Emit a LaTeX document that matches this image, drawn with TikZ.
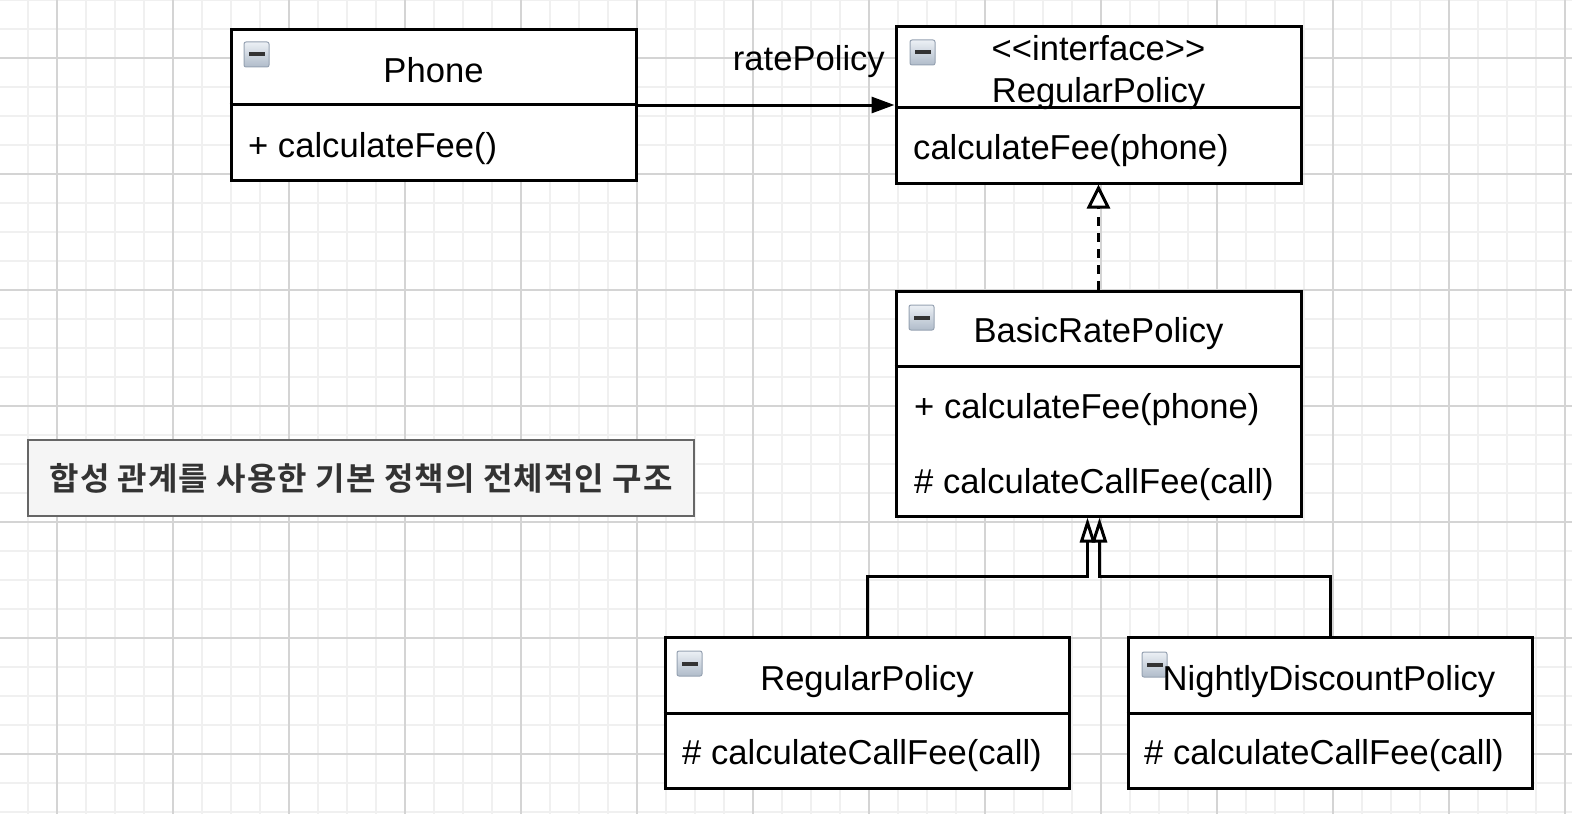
\documentclass[tikz,border=0pt]{standalone}
\usepackage{fontspec}
\setmainfont{Liberation Sans}
\newfontfamily\krfont[LetterSpace=3.5]{Noto Sans CJK KR Bold}
\usetikzlibrary{arrows.meta}
\definecolor{gridminor}{RGB}{240,240,240}
\definecolor{gridmajor}{RGB}{212,212,212}
\definecolor{lblfill}{RGB}{245,245,245}
\definecolor{lblborder}{RGB}{102,102,102}
\definecolor{lbltext}{RGB}{51,51,51}
\definecolor{icontop}{RGB}{236,240,245}
\definecolor{iconbot}{RGB}{176,188,202}
\definecolor{iconedge}{RGB}{150,162,178}
\tikzset{
  cls/.style={draw=black, line width=3bp, fill=white, inner sep=0pt},
  divider/.style={draw=black, line width=3bp},
  txt/.style={font=\fontsize{34.6bp}{40bp}\selectfont, inner sep=0pt, text=black},
  assoc/.style={line width=3bp, -{Triangle[length=23bp,width=16bp]}},
  realize/.style={line width=3bp, dash pattern=on 9bp off 7bp, -{Triangle[open,fill=white,length=24bp,width=23bp]}},
  inherit/.style={line width=3bp, -{Triangle[open,fill=white,length=25bp,width=15bp]}},
}
\newcommand{\clsicon}[2]{%
  \shade[top color=icontop, bottom color=iconbot, draw=iconedge, line width=1bp, rounded corners=2bp]
    (#1,#2) rectangle ++(25,25);
  \fill[black!80] (#1+4.5,#2+10.5) rectangle ++(16,4);
}
\begin{document}
\begin{tikzpicture}[x=1bp,y=-1bp]
\useasboundingbox (0,0) rectangle (1572,814);
\fill[white] (0,0) rectangle (1572,814);
% grid
\foreach \i in {-1,...,52} \draw[gridminor, line width=1.2bp] ({57+29*\i},0) -- ({57+29*\i},814);
\foreach \j in {-2,...,26} \draw[gridminor, line width=1.2bp] (0,{58+29*\j}) -- (1572,{58+29*\j});
\foreach \i in {0,...,13} \draw[gridmajor, line width=1.1bp] ({57+116*\i},0) -- ({57+116*\i},814);
\foreach \j in {0,...,6} \draw[gridmajor, line width=1.1bp] (0,{58+116*\j}) -- (1572,{58+116*\j});

% class boxes
\node[cls, minimum width=405bp, minimum height=150bp] (phone) at (433.5,105) {};
\node[cls, minimum width=405bp, minimum height=156bp] (iface) at (1098.5,105) {};
\node[cls, minimum width=405bp, minimum height=225bp] (basic) at (1098.5,403.5) {};
\node[cls, minimum width=404bp, minimum height=151bp] (sub1) at (867,712.5) {};
\node[cls, minimum width=404bp, minimum height=151bp] (sub2) at (1330,712.5) {};

% dividers
\draw[divider] (phone.west |- 0,104) -- (phone.east |- 0,104);
\draw[divider] (iface.west |- 0,107) -- (iface.east |- 0,107);
\draw[divider] (basic.west |- 0,366) -- (basic.east |- 0,366);
\draw[divider] (sub1.west |- 0,713) -- (sub1.east |- 0,713);
\draw[divider] (sub2.west |- 0,713) -- (sub2.east |- 0,713);

% icons
\clsicon{244}{42}
\clsicon{910}{40}
\clsicon{909}{305}
\clsicon{677}{651}
\clsicon{1142}{652}

% texts
\node[txt, anchor=base] (phoneT) at (433.5,82) {Phone};
\node[txt, anchor=base west] (phoneM) at (248,157) {+ calculateFee()};
\node[txt, anchor=base] (ifaceS) at (1098.5,61) {<{}<interface>{}>};
\node[txt, anchor=base] (ifaceT) at (1098.5,102) {RegularPolicy};
\node[txt, anchor=base west] (ifaceM) at (913,159) {calculateFee(phone)};
\node[txt, anchor=base] (basicT) at (1098.5,342) {BasicRatePolicy};
\node[txt, anchor=base west] (basicM1) at (914,418) {+ calculateFee(phone)};
\node[txt, anchor=base west] (basicM2) at (914,493) {\# calculateCallFee(call)};
\node[txt, anchor=base] (sub1T) at (867,690) {RegularPolicy};
\node[txt, anchor=base west] (sub1M) at (682,764) {\# calculateCallFee(call)};
\node[txt, anchor=base] (sub2T) at (1329,690) {NightlyDiscountPolicy};
\node[txt, anchor=base west] (sub2M) at (1144,764) {\# calculateCallFee(call)};

% connectors
\draw[assoc] (phone.east) -- (iface.west);
\node[txt, anchor=base east] (rateLbl) at (885,71) {ratePolicy};
\draw[realize] (basic.north) -- (iface.south);
\coordinate (tipL) at ([xshift=-11bp]basic.south);
\coordinate (tipR) at ([xshift=1bp]basic.south);
\draw[inherit] (sub1.north) -- ++(0,-59) -| (tipL);
\draw[inherit] (sub2.north) -- ++(0,-59) -| (tipR);

% caption box
\node[draw=lblborder, line width=2.5bp, fill=lblfill, minimum width=666bp, minimum height=76bp, inner sep=0pt,
      text=lbltext, font=\krfont\fontsize{32bp}{38bp}\selectfont] (caption) at (361,478)
  {합성 관계를 사용한 기본 정책의 전체적인 구조};
\end{tikzpicture}
\end{document}
